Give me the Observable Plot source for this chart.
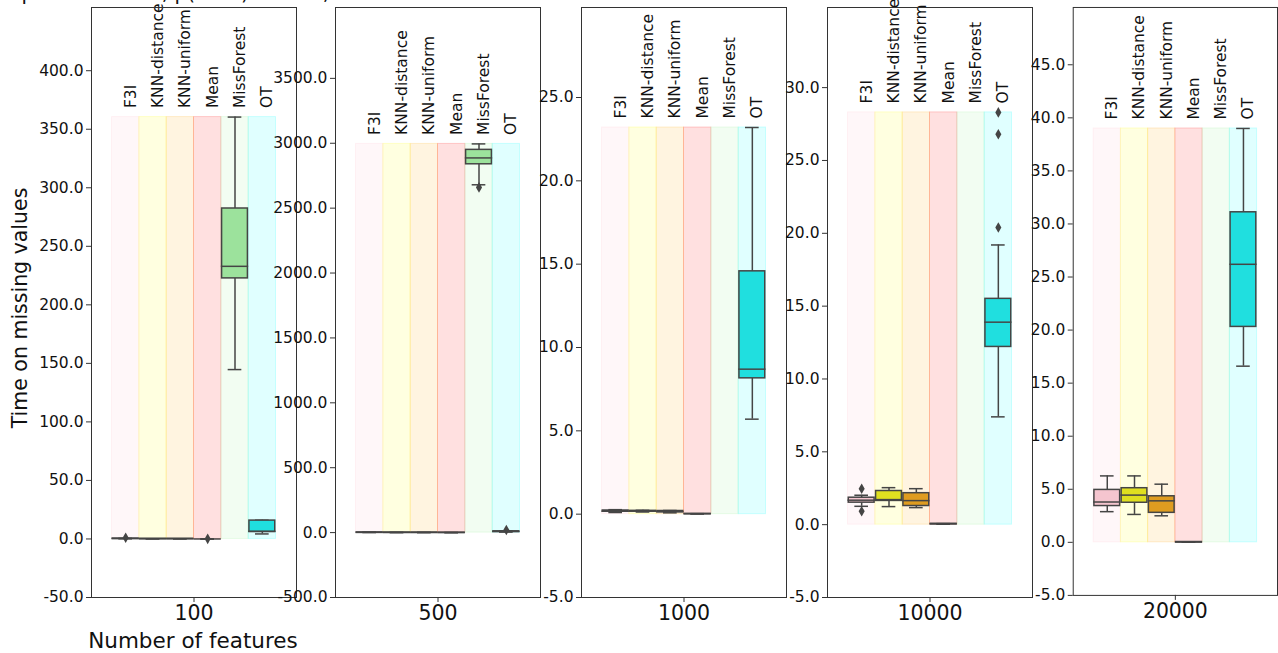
<!DOCTYPE html>
<html>
<head>
<meta charset="utf-8">
<script src="https://cdn.jsdelivr.net/npm/d3@7"></script>
<script src="https://cdn.jsdelivr.net/npm/@observablehq/plot@0.6"></script>
<style>
  html, body { margin: 0; padding: 0; background: #fff; }
  #fig { position: relative; width: 1278px; height: 653px; overflow: hidden; font-family: "DejaVu Sans", sans-serif; color: #111; }
  .panel { position: absolute; top: 0; }
  .abs { position: absolute; white-space: nowrap; }
</style>
</head>
<body>
<div id="fig"></div>
<script>
// ---------- data ----------
const titleText = "Imputation: ANN, p(miss) = 0.25, N=3";
const yLabel = "Time on missing values";
const xLabel = "Number of features";
const methods = ["F3I", "KNN-distance", "KNN-uniform", "Mean", "MissForest", "OT"];
const features = ["100", "500", "1000", "10000", "20000"];

// box statistics per panel: [whiskerLow, q1, median, q3, whiskerHigh] (null = absent)
const stats100 = [
  [0.2, 0.3, 0.3, 0.4, 0.5],
  [0.1, 0.1, 0.1, 0.2, 0.2],
  [0.1, 0.1, 0.1, 0.2, 0.2],
  [0.0, 0.0, 0.0, 0.0, 0.0],
  [144.7, 222.6, 232.9, 282.3, 360.4],
  [4.3, 6.0, 6.5, 15.7, 16.0]
];
const outliers100 = [[1.0], [], [], [0.1], [], []];

const stats500 = [
  [1.2, 1.4, 1.5, 1.7, 1.9],
  [0.6, 0.7, 0.8, 0.9, 1.0],
  [0.5, 0.6, 0.7, 0.8, 0.9],
  [0.02, 0.02, 0.03, 0.03, 0.04],
  [2680, 2838, 2887, 2949, 2995],
  [4, 6, 8, 10, 13]
];
const outliers500 = [[], [], [], [], [2660], [20]];

const stats1000 = [
  [0.10, 0.15, 0.18, 0.22, 0.27],
  [0.13, 0.16, 0.18, 0.20, 0.23],
  [0.08, 0.12, 0.15, 0.19, 0.22],
  [0.01, 0.01, 0.02, 0.02, 0.03],
  null,
  [5.7, 8.15, 8.7, 14.57, 23.2]
];
const outliers1000 = [[], [], [], [], [], []];

const stats10000 = [
  [1.26, 1.51, 1.68, 1.85, 2.02],
  [1.24, 1.63, 1.72, 2.31, 2.54],
  [1.17, 1.28, 1.65, 2.16, 2.47],
  [0.03, 0.04, 0.05, 0.06, 0.07],
  null,
  [7.4, 12.2, 13.9, 15.5, 19.2]
];
const outliers10000 = [[2.47, 0.92], [], [], [], [], [20.4, 26.8, 28.3]];

const stats20000 = [
  [2.89, 3.42, 3.80, 4.94, 6.26],
  [2.63, 3.73, 4.45, 5.10, 6.26],
  [2.50, 2.78, 3.91, 4.34, 5.48],
  [0.01, 0.02, 0.02, 0.03, 0.04],
  null,
  [16.6, 20.3, 26.2, 31.1, 39.0]
];
const outliers20000 = [[], [], [], [], [], []];

// axis limits and ticks
const yLimits = [[-50, 454], [-500, 4046], [-5, 30.4], [-5, 35.5], [-5, 50.4]];
const yTicks = [
  [-50, 0, 50, 100, 150, 200, 250, 300, 350, 400],
  [-500, 0, 500, 1000, 1500, 2000, 2500, 3000, 3500],
  [-5, 0, 5, 10, 15, 20, 25],
  [-5, 0, 5, 10, 15, 20, 25, 30],
  [-5, 0, 5, 10, 15, 20, 25, 30, 35, 40, 45]
];

// colours
const bandColors = ["pink", "yellow", "orange", "red", "lightgreen", "cyan"];
const boxColors = ["#f5c5cf", "#dfdf20", "#df9c20", "#df2020", "#9ce29c", "#20dfdf"];
const lineColor = "#454545";

// ---------- layout ----------
const allStats = [stats100, stats500, stats1000, stats10000, stats20000];
const allOutliers = [outliers100, outliers500, outliers1000, outliers10000, outliers20000];
const panelLefts = [91, 335, 581, 827, 1073];
const panelW = 205;
const mLeft = 80;
const slotW = 0.8 / methods.length;
const center = i => -0.4 + (i + 0.5) * slotW;
const fmt1 = d => d.toFixed(1);

const fig = document.getElementById("fig");

features.forEach((feat, p) => {
  const st = allStats[p];
  const outl = allOutliers[p];
  const rows = methods.map((m, i) => ({m, i, s: st[i]}));
  const boxes = rows.filter(r => r.s);
  const outPts = rows.flatMap(r => outl[r.i].map(v => ({i: r.i, v})));
  const pmax = d3.max([...boxes.map(r => r.s[4]), ...outPts.map(o => o.v)]);

  const chart = Plot.plot({
    width: mLeft + panelW + 1,
    height: 653,
    marginLeft: mLeft,
    marginRight: 1,
    marginTop: 7,
    marginBottom: 56,
    style: {background: "transparent", overflow: "visible", fontFamily: "DejaVu Sans, sans-serif", color: "#111"},
    x: {domain: [-0.5, 0.5], axis: null},
    y: {domain: yLimits[p], axis: null},
    marks: [
      // background bands
      Plot.rectY(rows, {
        x1: r => center(r.i) - slotW / 2, x2: r => center(r.i) + slotW / 2,
        y1: 0, y2: pmax,
        fill: r => bandColors[r.i], fillOpacity: 0.12,
        stroke: r => bandColors[r.i], strokeOpacity: 0.18, strokeWidth: 1
      }),
      // whiskers
      Plot.ruleX(boxes, {x: r => center(r.i), y1: r => r.s[0], y2: r => r.s[1], stroke: lineColor, strokeWidth: 1.5}),
      Plot.ruleX(boxes, {x: r => center(r.i), y1: r => r.s[3], y2: r => r.s[4], stroke: lineColor, strokeWidth: 1.5}),
      Plot.ruleY(boxes, {x1: r => center(r.i) - slotW / 4, x2: r => center(r.i) + slotW / 4, y: r => r.s[0], stroke: lineColor, strokeWidth: 1.5}),
      Plot.ruleY(boxes, {x1: r => center(r.i) - slotW / 4, x2: r => center(r.i) + slotW / 4, y: r => r.s[4], stroke: lineColor, strokeWidth: 1.5}),
      // boxes
      Plot.rectY(boxes, {
        x1: r => center(r.i) - slotW / 2, x2: r => center(r.i) + slotW / 2,
        y1: r => r.s[1], y2: r => r.s[3],
        fill: r => boxColors[r.i], stroke: lineColor, strokeWidth: 1.5, insetLeft: 0.75, insetRight: 0.75
      }),
      // medians
      Plot.ruleY(boxes, {x1: r => center(r.i) - slotW / 2, x2: r => center(r.i) + slotW / 2, y: r => r.s[2], stroke: lineColor, strokeWidth: 1.5}),
      // outliers
      Plot.dot(outPts, {x: o => center(o.i), y: o => o.v, symbol: "diamond", r: 3.2, fill: lineColor, stroke: "none"}),
      // method labels
      Plot.text(rows, {
        x: r => center(r.i), y: pmax, text: r => r.m,
        rotate: -90, textAnchor: "start", lineAnchor: "middle",
        dx: 5, dy: -9, fontSize: 15.5, fill: "#111"
      }),
      // axes and frame
      Plot.axisY({ticks: yTicks[p], tickFormat: fmt1, tickSize: 5, tickPadding: 3, fontSize: 15.5, label: null, stroke: "#333"}),
      Plot.axisX({ticks: [0], tickFormat: () => feat, tickSize: 5, tickPadding: 3, fontSize: 20.5, label: null, stroke: "#333"}),
      Plot.frame({stroke: "#333", strokeWidth: 1})
    ]
  });
  const wrap = document.createElement("div");
  wrap.className = "panel";
  wrap.style.left = (panelLefts[p] - mLeft) + "px";
  wrap.appendChild(chart);
  fig.appendChild(wrap);
});

// title (cropped at the top in the reference)
const t = document.createElement("div");
t.className = "abs";
t.textContent = titleText;
t.style.cssText += "left:-4px; top:-19px; font-size:20px;";
fig.appendChild(t);

// y label
const yl = document.createElement("div");
yl.className = "abs";
yl.textContent = yLabel;
yl.style.cssText += "left:20px; top:308px; font-size:20.5px; transform: translate(-50%,-50%) rotate(-90deg);";
fig.appendChild(yl);

// x label
const xl = document.createElement("div");
xl.className = "abs";
xl.textContent = xLabel;
xl.style.cssText += "left:193px; top:640px; font-size:21.5px; transform: translate(-50%,-50%);";
fig.appendChild(xl);
</script>
</body>
</html>
